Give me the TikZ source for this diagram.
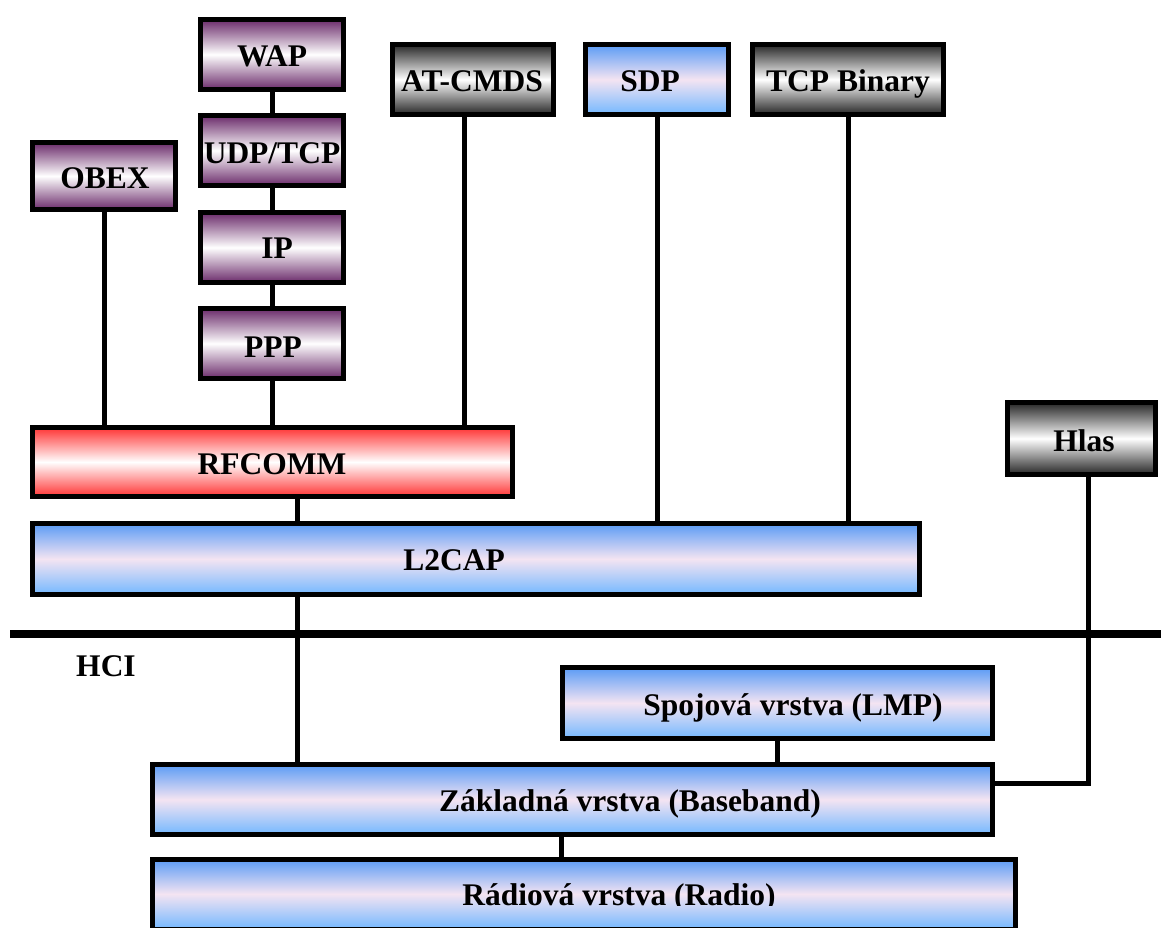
\documentclass[tikz,border=0pt]{standalone}
\usepackage{fontspec}
\setmainfont{Liberation Serif}
\usetikzlibrary{calc}

% fill colours of the protocol blocks
\definecolor{plumedge}{HTML}{6A2A6A}
\definecolor{greyedge}{HTML}{262626}
\definecolor{redTop}{HTML}{FF3434}
\definecolor{blueTop}{HTML}{5A9BF5}
\definecolor{blueBot}{HTML}{74B8FF}
\definecolor{blueMid}{HTML}{F4E4F2}

% vertical gradients: dark edges, light band in the middle
\pgfdeclareverticalshading{plumbar}{100bp}{color(0bp)=(plumedge); color(25bp)=(plumedge); color(50bp)=(white); color(75bp)=(plumedge); color(100bp)=(plumedge)}
\pgfdeclareverticalshading{greybar}{100bp}{color(0bp)=(greyedge); color(25bp)=(greyedge); color(50bp)=(white); color(75bp)=(greyedge); color(100bp)=(greyedge)}
\pgfdeclareverticalshading{redbar}{100bp}{color(0bp)=(redTop); color(25bp)=(redTop); color(50bp)=(white); color(75bp)=(redTop); color(100bp)=(redTop)}
\pgfdeclareverticalshading{bluebar}{100bp}{color(0bp)=(blueBot); color(25bp)=(blueBot); color(50bp)=(blueMid); color(75bp)=(blueTop); color(100bp)=(blueTop)}

\begin{document}
\begin{tikzpicture}[x=1pt,y=-1pt,
  tier/.style={draw=black, line width=5pt, inner sep=0pt},
  plumblk/.style={tier, shading=plumbar},
  greyblk/.style={tier, shading=greybar},
  redblk/.style={tier, shading=redbar},
  blueblk/.style={tier, shading=bluebar},
  lbl/.style={font=\bfseries\fontsize{31.5}{36}\selectfont, anchor=base, inner sep=0pt},
  wire/.style={line width=5pt},
  bus/.style={line width=8pt}]

\useasboundingbox (0,0) rectangle (1161,927);
\clip (0,0) rectangle (1161,927);

% ---- blocks ----
\node[plumblk, minimum width=143pt, minimum height=67pt] (obex) at (104,176) {};
\node[plumblk, minimum width=143pt, minimum height=70pt] (wap)  at (272,54.5) {};
\node[plumblk, minimum width=143pt, minimum height=70pt] (udp)  at (272,150.5) {};
\node[plumblk, minimum width=143pt, minimum height=70pt] (ip)   at (272,247.5) {};
\node[plumblk, minimum width=143pt, minimum height=70pt] (ppp)  at (272,343.5) {};
\node[greyblk, minimum width=161pt, minimum height=70pt] (atc)  at (473,79.5) {};
\node[blueblk, minimum width=143pt, minimum height=70pt] (sdp)  at (657,79.5) {};
\node[greyblk, minimum width=191pt, minimum height=70pt] (tcpb) at (848,79.5) {};
\node[redblk,  minimum width=480pt, minimum height=69pt] (rfcomm) at (272.5,462) {};
\node[blueblk, minimum width=887pt, minimum height=71pt] (l2cap)  at (476,559) {};
\node[greyblk, minimum width=148pt, minimum height=72pt] (hlas)   at (1081.5,438.5) {};
\node[blueblk, minimum width=430pt, minimum height=71pt] (lmp)    at (777.5,703) {};
\node[blueblk, minimum width=840pt, minimum height=70pt] (bb)     at (572.5,799.5) {};
\node[blueblk, minimum width=863pt, minimum height=70pt] (radio)  at (584,894) {};

% ---- labels ----
\node[lbl] (tobex) at (105,188) {OBEX};
\node[lbl] (twap)  at (272,66) {WAP};
\node[lbl] (tudp)  at (272,163) {UDP/TCP};
\node[lbl] (tip)   at (277,258) {IP};
\node[lbl] (tppp)  at (273,357) {PPP};
\node[lbl] (tatc)  at (472,91) {AT-CMDS};
\node[lbl] (tsdp)  at (650,91) {SDP};
\node[lbl] (ttcpb) at (848,91) {TCP Binary};
\node[lbl] (trf)   at (272,474) {RFCOMM};
\node[lbl] (tl2)   at (454,570) {L2CAP};
\node[lbl] (thlas) at (1084,451) {Hlas};
\node[lbl] (thci)  at (106,676) {HCI};
\node[lbl] (tlmp)  at (793,715) {Spojová vrstva (LMP)};
\node[lbl] (tbb)   at (630,811) {Základná vrstva (Baseband)};
% the radio label is cut off along its baseline
\begin{scope}
  \clip (150,850) rectangle (1020,905);
  \node[lbl] (tradio) at (619,905) {Rádiová vrstva (Radio)};
\end{scope}

% ---- positions of the vertical links ----
\coordinate (xat) at (464,0);
\coordinate (xrf) at (297,0);
\coordinate (xh)  at (1088,0);
\coordinate (xbr) at (561,0);
\coordinate (yh)  at (0,783);
\coordinate (hciL) at (10,634);
\coordinate (hciR) at (1161,634);

% ---- links ----
\draw[wire] (obex.south) -- (obex.south |- rfcomm.north);
\draw[wire] (wap.south) -- (udp.north);
\draw[wire] (udp.south) -- (ip.north);
\draw[wire] (ip.south) -- (ppp.north);
\draw[wire] (ppp.south) -- (ppp.south |- rfcomm.north);
\draw[wire] (xat |- atc.south) -- (xat |- rfcomm.north);
\draw[wire] (sdp.south) -- (sdp.south |- l2cap.north);
\draw[wire] (tcpb.south) -- (tcpb.south |- l2cap.north);
\draw[wire] (xrf |- rfcomm.south) -- (xrf |- l2cap.north);
\draw[wire] (xrf |- l2cap.south) -- (xrf |- bb.north);
\draw[wire] (xh |- hlas.south) -- (xh |- yh) -- (bb.east |- yh);
\draw[wire] (lmp.south) -- (lmp.south |- bb.north);
\draw[wire] (xbr |- bb.south) -- (xbr |- radio.north);

% ---- HCI boundary ----
\draw[bus] (hciL) -- (hciR);
\end{tikzpicture}
\end{document}
